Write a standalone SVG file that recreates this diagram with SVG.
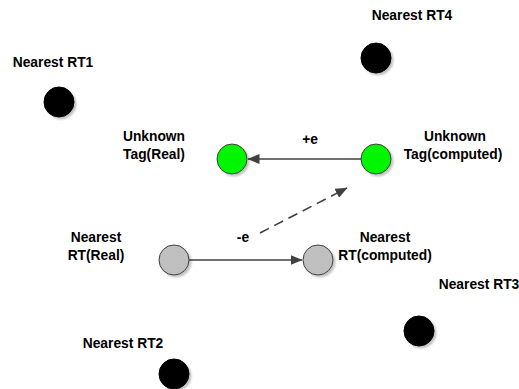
<svg xmlns="http://www.w3.org/2000/svg" width="519" height="389" viewBox="0 0 519 389">
  <style>
    .lbl { font-family: "Liberation Sans", Arial, sans-serif; font-weight: bold; font-size: 13.8px; fill: #000; text-anchor: middle; }
    .node { stroke: #404040; stroke-width: 1; filter: url(#shadow); }
    .rt { fill: #000; stroke: #000; }
    .tag { fill: #00f500; }
    .ref { fill: #c0c0c0; }
    .edge { stroke: #404040; stroke-width: 1.6; fill: none; }
    .dash { stroke-dasharray: 10 6; }
  </style>
  <defs>
    <filter id="shadow" x="-30%" y="-30%" width="170%" height="170%">
      <feGaussianBlur in="SourceAlpha" stdDeviation="1.2"/>
      <feOffset dx="2" dy="2" result="b"/>
      <feComponentTransfer><feFuncA type="linear" slope="0.25"/></feComponentTransfer>
      <feMerge><feMergeNode/><feMergeNode in="SourceGraphic"/></feMerge>
    </filter>
    <marker id="arrow" markerWidth="12" markerHeight="10" refX="11.5" refY="5" orient="auto" markerUnits="userSpaceOnUse">
      <path d="M0,0 L12,5 L0,10 Z" fill="#404040"/>
    </marker>
  </defs>
  <rect width="519" height="389" fill="#fff"/>

  <g id="connectors">
    <line class="edge" x1="361" y1="159" x2="248" y2="159" marker-end="url(#arrow)"/>
    <line class="edge" x1="189" y1="260" x2="302" y2="260" marker-end="url(#arrow)"/>
    <line class="edge dash" x1="260" y1="233" x2="347" y2="188" marker-end="url(#arrow)"/>
    <text class="lbl" x="310" y="144">+e</text>
    <text class="lbl" x="243" y="242">-e</text>
  </g>

  <g id="rt1">
    <circle class="node rt" cx="59" cy="102" r="15"/>
    <text class="lbl" x="53" y="67">Nearest RT1</text>
  </g>
  <g id="rt4">
    <circle class="node rt" cx="376" cy="58" r="15"/>
    <text class="lbl" x="412" y="20">Nearest RT4</text>
  </g>
  <g id="rt3">
    <circle class="node rt" cx="419" cy="331" r="15"/>
    <text class="lbl" x="479" y="289">Nearest RT3</text>
  </g>
  <g id="rt2">
    <circle class="node rt" cx="174" cy="374" r="15"/>
    <text class="lbl" x="123" y="348">Nearest RT2</text>
  </g>
  <g id="tag-real">
    <circle class="node tag" cx="232" cy="159" r="15"/>
    <text class="lbl" x="154" y="141">Unknown</text>
    <text class="lbl" x="154" y="159">Tag(Real)</text>
  </g>
  <g id="tag-computed">
    <circle class="node tag" cx="376" cy="159" r="15"/>
    <text class="lbl" x="455" y="141">Unknown</text>
    <text class="lbl" x="453" y="159">Tag(computed)</text>
  </g>
  <g id="rt-real">
    <circle class="node ref" cx="174" cy="260" r="15"/>
    <text class="lbl" x="96" y="242">Nearest</text>
    <text class="lbl" x="96" y="260">RT(Real)</text>
  </g>
  <g id="rt-computed">
    <circle class="node ref" cx="318" cy="260" r="15"/>
    <text class="lbl" x="385" y="242">Nearest</text>
    <text class="lbl" x="385" y="260">RT(computed)</text>
  </g>
</svg>
